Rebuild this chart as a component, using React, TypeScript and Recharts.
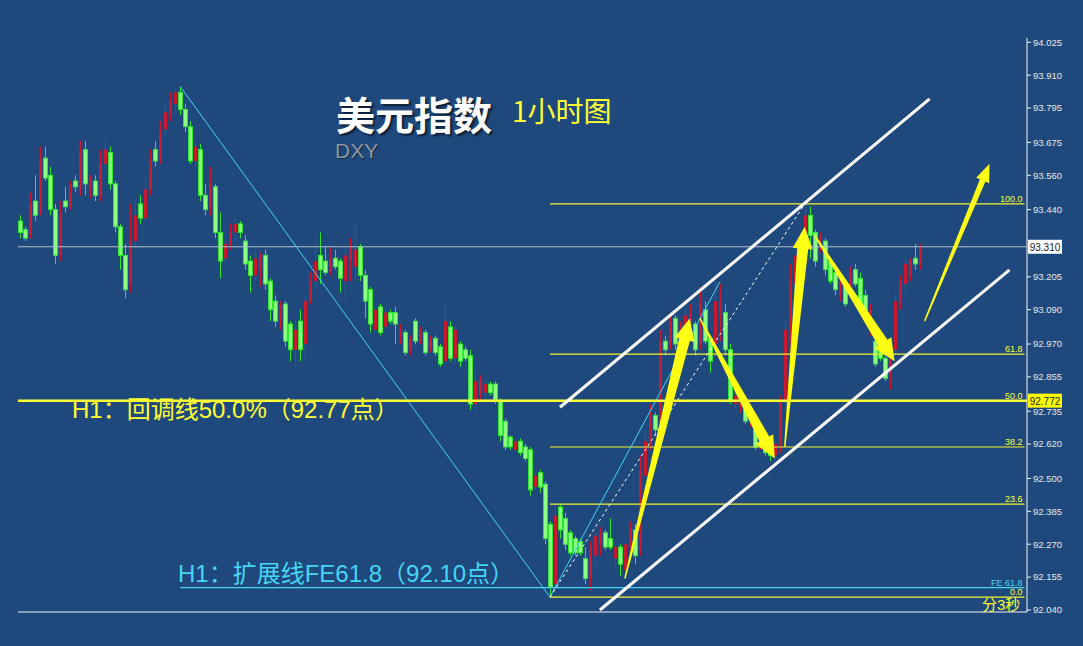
import React from "react";
import { ComposedChart, Bar, XAxis, YAxis, ReferenceLine } from "recharts";

// [open, high, low, close], one bar per hour
type Candle = [number, number, number, number];

const session1: Candle[] = [
  [93.40, 93.42, 93.34, 93.36], [93.37, 93.38, 93.33, 93.34], [93.35, 93.50, 93.34, 93.46],
  [93.47, 93.56, 93.40, 93.42], [93.43, 93.66, 93.42, 93.61], [93.62, 93.66, 93.54, 93.55],
  [93.56, 93.59, 93.42, 93.44], [93.44, 93.46, 93.25, 93.28], [93.28, 93.47, 93.26, 93.42],
  [93.47, 93.52, 93.43, 93.45], [93.45, 93.54, 93.44, 93.53], [93.54, 93.56, 93.50, 93.52],
  [93.51, 93.68, 93.49, 93.65], [93.65, 93.68, 93.49, 93.53], [93.52, 93.56, 93.48, 93.55],
  [93.54, 93.56, 93.47, 93.49], [93.49, 93.65, 93.47, 93.60], [93.60, 93.69, 93.58, 93.65],
  [93.64, 93.66, 93.51, 93.53], [93.53, 93.54, 93.36, 93.38], [93.38, 93.39, 93.23, 93.28],
  [93.28, 93.32, 93.13, 93.16], [93.18, 93.46, 93.15, 93.33],
];
const session2: Candle[] = [
  [93.33, 93.48, 93.30, 93.42], [93.46, 93.49, 93.39, 93.41], [93.41, 93.55, 93.40, 93.51],
  [93.51, 93.65, 93.49, 93.61], [93.65, 93.68, 93.59, 93.61], [93.61, 93.75, 93.60, 93.72],
  [93.72, 93.81, 93.70, 93.78], [93.77, 93.85, 93.75, 93.82], [93.81, 93.86, 93.79, 93.85],
  [93.85, 93.87, 93.77, 93.79], [93.79, 93.81, 93.71, 93.73], [93.73, 93.75, 93.60, 93.61],
  [93.61, 93.68, 93.59, 93.66], [93.65, 93.67, 93.47, 93.49], [93.49, 93.53, 93.42, 93.44],
  [93.44, 93.59, 93.42, 93.53], [93.52, 93.53, 93.34, 93.36], [93.36, 93.43, 93.20, 93.26],
  [93.27, 93.35, 93.25, 93.32], [93.32, 93.39, 93.30, 93.36], [93.36, 93.41, 93.33, 93.39],
  [93.39, 93.40, 93.34, 93.36], [93.33, 93.35, 93.23, 93.25],
];
const session3: Candle[] = [
  [93.26, 93.28, 93.15, 93.21], [93.21, 93.32, 93.19, 93.27], [93.23, 93.29, 93.17, 93.28],
  [93.28, 93.30, 93.16, 93.18], [93.19, 93.20, 93.05, 93.09], [93.12, 93.14, 93.03, 93.05],
  [93.05, 93.12, 93.02, 93.11], [93.11, 93.12, 92.96, 92.98], [93.04, 93.05, 92.91, 92.95],
  [92.95, 93.06, 92.89, 93.02], [93.05, 93.09, 92.91, 92.95], [92.97, 93.14, 92.91, 93.12],
  [93.12, 93.22, 93.11, 93.19], [93.19, 93.35, 93.17, 93.26], [93.28, 93.36, 93.18, 93.23],
  [93.26, 93.31, 93.21, 93.22], [93.22, 93.31, 93.21, 93.27], [93.27, 93.30, 93.23, 93.24],
  [93.26, 93.27, 93.15, 93.20], [93.19, 93.32, 93.12, 93.28], [93.26, 93.34, 93.19, 93.31],
  [93.24, 93.39, 93.19, 93.30], [93.31, 93.32, 93.19, 93.21],
];
const session4: Candle[] = [
  [93.21, 93.23, 93.06, 93.12], [93.16, 93.17, 93.01, 93.04], [93.02, 93.10, 93.01, 93.09],
  [93.10, 93.11, 93.00, 93.01], [93.03, 93.09, 93.02, 93.08], [93.08, 93.09, 93.04, 93.05],
  [93.08, 93.10, 92.97, 93.04], [92.98, 93.04, 92.97, 93.02], [93.01, 93.02, 92.93, 92.94],
  [92.95, 93.00, 92.93, 92.99], [93.05, 93.06, 92.97, 92.98], [92.98, 93.03, 92.97, 93.02],
  [93.01, 93.02, 92.93, 92.94], [92.95, 93.00, 92.94, 92.99], [92.99, 93.00, 92.93, 92.94],
  [92.96, 92.97, 92.89, 92.90], [92.91, 93.11, 92.90, 93.05], [93.03, 93.05, 92.91, 92.92],
  [92.92, 93.03, 92.90, 93.02], [92.97, 92.98, 92.89, 92.91], [92.95, 92.96, 92.91, 92.92],
  [92.93, 92.95, 92.74, 92.76], [92.76, 92.87, 92.73, 92.84],
];
const session5: Candle[] = [
  [92.79, 92.86, 92.77, 92.85], [92.80, 92.84, 92.76, 92.83], [92.83, 92.84, 92.79, 92.80],
  [92.83, 92.84, 92.76, 92.77], [92.77, 92.78, 92.63, 92.65], [92.70, 92.71, 92.60, 92.61],
  [92.645, 92.65, 92.60, 92.61], [92.60, 92.64, 92.59, 92.63], [92.63, 92.64, 92.58, 92.59],
  [92.61, 92.62, 92.56, 92.57], [92.60, 92.61, 92.44, 92.46], [92.47, 92.52, 92.46, 92.51],
  [92.52, 92.53, 92.45, 92.47], [92.48, 92.49, 92.27, 92.29], [92.34, 92.35, 92.085, 92.12],
  [92.13, 92.40, 92.11, 92.37], [92.40, 92.41, 92.29, 92.32], [92.36, 92.38, 92.25, 92.27],
  [92.31, 92.32, 92.23, 92.24], [92.29, 92.30, 92.23, 92.24], [92.28, 92.29, 92.23, 92.24],
  [92.22, 92.26, 92.13, 92.15],
];
const session6: Candle[] = [
  [92.15, 92.28, 92.11, 92.26], [92.23, 92.32, 92.19, 92.30], [92.27, 92.33, 92.23, 92.31],
  [92.31, 92.32, 92.25, 92.26], [92.29, 92.36, 92.25, 92.26], [92.22, 92.27, 92.19, 92.26],
  [92.26, 92.27, 92.16, 92.20], [92.18, 92.28, 92.16, 92.27], [92.26, 92.35, 92.22, 92.33],
  [92.32, 92.34, 92.20, 92.23], [92.25, 92.58, 92.23, 92.53], [92.51, 92.67, 92.50, 92.63],
  [92.62, 92.76, 92.60, 92.72], [92.72, 92.73, 92.65, 92.67], [92.69, 93.02, 92.67, 92.98],
  [92.98, 93.00, 92.93, 92.95], [92.97, 93.07, 92.95, 93.05], [93.06, 93.07, 92.95, 92.97],
  [92.97, 93.05, 92.95, 93.04], [93.02, 93.10, 93.00, 93.07], [93.05, 93.11, 93.02, 93.08],
  [93.04, 93.05, 92.93, 92.95],
];
const session7: Candle[] = [
  [92.97, 93.17, 92.95, 93.11], [93.09, 93.12, 92.97, 92.98], [92.99, 93.00, 92.87, 92.91],
  [92.97, 93.19, 92.95, 93.12], [93.07, 93.18, 92.98, 93.12], [93.08, 93.11, 92.93, 92.95],
  [92.95, 92.97, 92.76, 92.77], [92.76, 92.80, 92.74, 92.79], [92.75, 92.79, 92.73, 92.78],
  [92.76, 92.77, 92.69, 92.70], [92.69, 92.74, 92.68, 92.73], [92.67, 92.68, 92.60, 92.61],
  [92.61, 92.65, 92.60, 92.64], [92.64, 92.65, 92.58, 92.59], [92.62, 92.62, 92.56, 92.58],
  [92.58, 92.63, 92.55, 92.62], [92.61, 92.79, 92.59, 92.77], [92.77, 93.05, 92.76, 93.02],
  [92.98, 93.25, 92.93, 93.19], [93.18, 93.32, 93.15, 93.28], [93.33, 93.35, 93.23, 93.25],
  [93.28, 93.46, 93.26, 93.42],
];
const session8: Candle[] = [
  [93.42, 93.45, 93.27, 93.35], [93.36, 93.37, 93.24, 93.26], [93.30, 93.36, 93.29, 93.35],
  [93.33, 93.34, 93.21, 93.23], [93.26, 93.27, 93.18, 93.19], [93.22, 93.24, 93.14, 93.16],
  [93.14, 93.21, 93.12, 93.19], [93.18, 93.19, 93.10, 93.11], [93.16, 93.24, 93.14, 93.22],
  [93.23, 93.25, 93.17, 93.18], [93.20, 93.22, 93.10, 93.11], [93.14, 93.16, 93.06, 93.07],
  [93.02, 93.11, 93.00, 93.09], [92.98, 93.00, 92.89, 92.90], [92.97, 92.98, 92.91, 92.92],
  [92.92, 92.93, 92.84, 92.85], [92.86, 92.98, 92.81, 92.97], [92.95, 93.15, 92.93, 93.12],
  [93.11, 93.21, 93.09, 93.19], [93.18, 93.27, 93.15, 93.25], [93.21, 93.27, 93.19, 93.26],
  [93.27, 93.32, 93.23, 93.25], [93.25, 93.32, 93.23, 93.31],
];

const candles = [
  ...session1, ...session2, ...session3, ...session4,
  ...session5, ...session6, ...session7, ...session8,
];
const SLOTS = 202; // empty hours on the right, room for the projection

// 93.325 sits under the last-price tag, so it is left out
const priceTicks = [
  92.04, 92.155, 92.27, 92.385, 92.5, 92.62, 92.735, 92.855, 92.97,
  93.09, 93.205, 93.44, 93.56, 93.675, 93.795, 93.91, 94.025,
];

const lastPrice = 93.31;
const retracePrice = 92.772;
const fePrice = 92.118;

const fibNames = ["100.0", "61.8", "50.0", "38.2", "23.6", "0.0"];
const fibPrices = [93.46, 92.935, 92.772, 92.61, 92.41, 92.085];

// [bar index, price] pairs
const swingDown = [[32, 93.87], [106, 92.085]];
const swingUp = [[106, 92.085], [140, 93.187]];
const fibSpan = [[106, 92.085], [157, 93.46]];
const channelTop = [[108, 92.749], [182, 93.827]];
const channelBottom = [[116, 92.04], [198, 93.229]];

// tail index, tail price, head index, head price
const bigArrows = [
  [121, 92.15, 134, 93.06],
  [136, 93.06, 151, 92.57],
  [153, 92.61, 157, 93.38],
  [159, 93.35, 175, 92.91],
];
const smallArrows = [[181, 93.05, 194, 93.6]];

const rows = Array.from({ length: SLOTS }, (_, i) => {
  const c = candles[i];
  return c ? { i, o: c[0], h: c[1], l: c[2], c: c[3] } : { i };
});

const BG = "#1f497d";
const YELLOW = "#ffff33";
const CYAN = "#45d6f5";

function CandleShape(props: any) {
  const { x, y, width, height, payload } = props;
  if (!payload || payload.h == null) return null;
  const top = Math.min(y, y + height);
  const span = Math.abs(height);
  const k = payload.h > payload.l ? span / (payload.h - payload.l) : 0;
  const cx = Math.round(x + width / 2) + 0.5;
  const up = payload.c >= payload.o;
  const bTop = top + (payload.h - Math.max(payload.o, payload.c)) * k;
  const bH = Math.max(1, Math.abs(payload.c - payload.o) * k);
  if (up) {
    return (
      <g>
        <line x1={cx} x2={cx} y1={top} y2={top + span} stroke="#c9182f" />
        <rect x={cx - 1.5} y={bTop} width={3} height={bH} fill="#c9182f" />
      </g>
    );
  }
  return (
    <g>
      <line x1={cx} x2={cx} y1={top} y2={top + span} stroke="#2ee62e" />
      <rect x={cx - 2} y={bTop} width={4} height={bH} fill="#8dff80" stroke="#2ee62e" strokeWidth={1} />
    </g>
  );
}

function arrowShape(bodyW: number, headW: number, headL: number) {
  return (p: any) => {
    const { x1, y1, x2, y2 } = p;
    if ([x1, y1, x2, y2].some((v) => typeof v !== "number" || isNaN(v))) return null;
    const dx = x2 - x1;
    const dy = y2 - y1;
    const len = Math.hypot(dx, dy) || 1;
    const ux = dx / len;
    const uy = dy / len;
    const nx = -uy;
    const ny = ux;
    const bx = x2 - ux * headL;
    const by = y2 - uy * headL;
    const pts = [
      [x1 + nx * 0.7, y1 + ny * 0.7],
      [bx + (nx * bodyW) / 2, by + (ny * bodyW) / 2],
      [bx + (nx * headW) / 2, by + (ny * headW) / 2],
      [x2, y2],
      [bx - (nx * headW) / 2, by - (ny * headW) / 2],
      [bx - (nx * bodyW) / 2, by - (ny * bodyW) / 2],
      [x1 - nx * 0.7, y1 - ny * 0.7],
    ];
    return <polygon points={pts.map((q) => q.join(",")).join(" ")} fill="#ffff14" />;
  };
}

function PriceTag(props: any) {
  const { viewBox, value, bg } = props;
  if (!viewBox) return null;
  const x = viewBox.x + viewBox.width + 1;
  const y = viewBox.y;
  return (
    <g>
      <rect x={x} y={y - 7} width={34} height={14} fill={bg} />
      <text x={x + 17} y={y + 4} textAnchor="middle" fontSize={10} fontFamily="Liberation Sans, Arial" fill="#1a1a1a">
        {value}
      </text>
    </g>
  );
}

const seg = (pts: number[][]) => pts.map(([x, y]) => ({ x, y }));

export default function App() {
  const label = { fontFamily: "Liberation Sans, Noto Sans CJK SC, sans-serif", lineHeight: 1, position: "absolute" as const, whiteSpace: "nowrap" as const };
  return (
    <div style={{ position: "absolute", left: 0, top: 0, width: 1083, height: 646, background: BG, overflow: "hidden" }}>
      <ComposedChart width={1083} height={646} data={rows} margin={{ top: 38, right: 0, bottom: 0, left: 18 }} barCategoryGap={0}>
        <XAxis dataKey="i" type="category" height={34} tick={false} tickLine={false} axisLine={{ stroke: "#f2f2f2" }} />
        <YAxis
          orientation="right"
          width={56}
          domain={[92.033, 94.04]}
          allowDataOverflow
          ticks={priceTicks}
          interval={0}
          tickFormatter={(v: number) => v.toFixed(3)}
          tick={{ fill: "#e8e8e8", fontSize: 9.5, fontFamily: "Liberation Sans, Arial" }}
          tickSize={4}
          tickLine={{ stroke: "#f2f2f2" }}
          axisLine={{ stroke: "#f2f2f2" }}
        />

        <ReferenceLine y={lastPrice} stroke="#b4c0cc" strokeWidth={1} label={<PriceTag value="93.310" bg="#ffffff" />} />

        {fibPrices.map((p, k) => (
          <ReferenceLine
            key={fibNames[k]}
            segment={[{ x: 106, y: p }, { x: SLOTS - 1, y: p }]}
            stroke="#f5f52a"
            strokeWidth={1.2}
            ifOverflow="visible"
            label={{ value: fibNames[k], position: "insideBottomRight", offset: 2, fill: YELLOW, fontSize: 9, fontFamily: "Liberation Sans, Arial" }}
          />
        ))}
        <ReferenceLine
          segment={[{ x: 32, y: fePrice }, { x: SLOTS - 1, y: fePrice }]}
          stroke={CYAN}
          strokeWidth={1.2}
          ifOverflow="visible"
          label={{ value: "FE 61.8", position: "insideBottomRight", offset: 2, fill: CYAN, fontSize: 9, fontFamily: "Liberation Sans, Arial" }}
        />

        <ReferenceLine segment={seg(swingDown)} stroke={CYAN} strokeWidth={1} ifOverflow="visible" />
        <ReferenceLine segment={seg(swingUp)} stroke={CYAN} strokeWidth={1} ifOverflow="visible" />
        <ReferenceLine segment={seg(fibSpan)} stroke="#ffffff" strokeWidth={1} strokeDasharray="3 3" ifOverflow="visible" />

        <Bar dataKey={(d: any) => (d.h == null ? null : [d.l, d.h])} shape={CandleShape} isAnimationActive={false} />

        <ReferenceLine y={retracePrice} stroke={YELLOW} strokeWidth={2.5} label={<PriceTag value="92.772" bg="#ffff00" />} />

        <ReferenceLine segment={seg(channelTop)} stroke="#ffffff" strokeWidth={3} ifOverflow="visible" />
        <ReferenceLine segment={seg(channelBottom)} stroke="#ffffff" strokeWidth={3} ifOverflow="visible" />

        {bigArrows.map((a, k) => (
          <ReferenceLine key={"ba" + k} segment={[{ x: a[0], y: a[1] }, { x: a[2], y: a[3] }]} ifOverflow="visible" shape={arrowShape(11, 20, 22)} />
        ))}
        {smallArrows.map((a, k) => (
          <ReferenceLine key={"sa" + k} segment={[{ x: a[0], y: a[1] }, { x: a[2], y: a[3] }]} ifOverflow="visible" shape={arrowShape(6, 14, 18)} />
        ))}
      </ComposedChart>

      <div style={{ ...label, left: 336, top: 94, fontSize: 39, fontWeight: 700, color: "#ffffff", fontFamily: "Noto Sans CJK SC, sans-serif", textShadow: "2px 2px 2px rgba(0,0,0,0.6)" }}>
        美元指数
      </div>
      <div style={{ ...label, left: 512, top: 96, fontSize: 28, color: YELLOW, fontFamily: "Noto Sans CJK SC, sans-serif" }}>1小时图</div>
      <div style={{ ...label, left: 335, top: 140, fontSize: 21, color: "#8d97a3", textShadow: "1px 1px 1px rgba(0,0,0,0.5)" }}>DXY</div>
      <div style={{ ...label, left: 72, top: 398, fontSize: 24, color: YELLOW }}>H1：回调线50.0%（92.77点）</div>
      <div style={{ ...label, left: 178, top: 562, fontSize: 24, color: CYAN }}>H1：扩展线FE61.8（92.10点）</div>
      <div style={{ ...label, left: 982, top: 597, fontSize: 15, color: YELLOW }}>分3秒</div>
    </div>
  );
}
